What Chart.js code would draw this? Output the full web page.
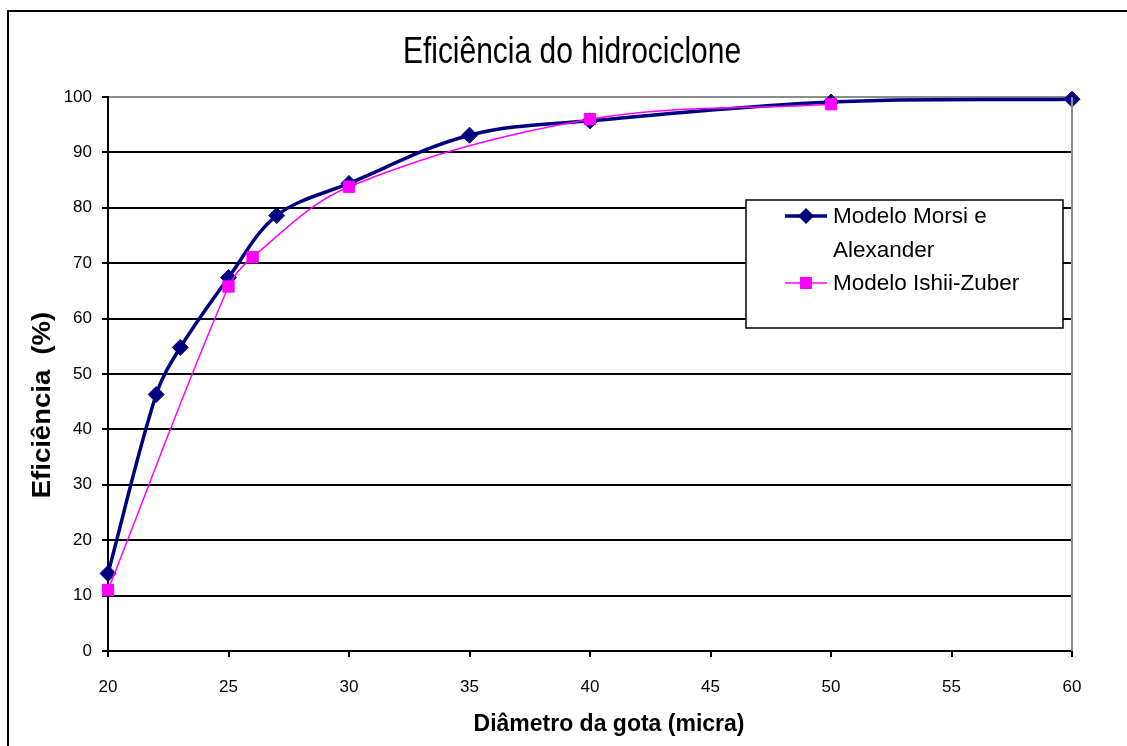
<!doctype html>
<html lang="pt">
  <head>
    <meta charset="utf-8">
    <title>Eficiência do hidrociclone</title>
    <style>
      * { margin: 0; padding: 0; }
      body { background: #fff; }
      .chartBox { width: 1127px; height: 746px; }
    </style>
  </head>
  <body>
    <div class="chartBox">
      <canvas id="myChart" width="1127" height="746"></canvas>
    </div>
    <script src="https://cdn.jsdelivr.net/npm/chart.js/dist/chart.umd.min.js"></script>
    <script>
    // data
    const morsiX = [20, 22, 23, 25, 27, 30, 35, 40, 50, 60];
    const morsiY = [14, 46.3, 54.8, 67.4, 78.6, 84.4, 93.1, 95.7, 99.1, 99.6];
    const ishiiX = [20, 25, 26, 30, 40, 50];
    const ishiiY = [11, 65.8, 71.1, 83.8, 96, 98.7];
    const xTicks = [20, 25, 30, 35, 40, 45, 50, 55, 60];
    const yTicks = [0, 10, 20, 30, 40, 50, 60, 70, 80, 90, 100];

    const navy = '#000080';
    const pink = '#FF00FF';
    const FONT = "'Liberation Sans', Arial, sans-serif";

    const toPoints = (xs, ys) => xs.map((x, i) => ({ x: x, y: ys[i] }));

    // title, axis titles, frame and legend
    const extras = {
      id: 'extras',
      afterDraw(chart) {
        const ctx = chart.ctx;
        const a = chart.chartArea;
        ctx.save();

        // outer frame
        ctx.strokeStyle = '#000';
        ctx.lineWidth = 2;
        ctx.strokeRect(8, 11, 1200, 800);

        // grey plot border on the right
        ctx.strokeStyle = '#8c8c8c';
        ctx.lineWidth = 2;
        ctx.beginPath();
        ctx.moveTo(a.right, a.top);
        ctx.lineTo(a.right, a.bottom);
        ctx.stroke();

        ctx.fillStyle = '#000';
        // chart title (narrow)
        ctx.save();
        ctx.translate(572, 63);
        ctx.scale(0.81, 1);
        ctx.font = '37px ' + FONT;
        ctx.textAlign = 'center';
        ctx.textBaseline = 'alphabetic';
        ctx.fillText('Eficiência do hidrociclone', 0, 0);
        ctx.restore();

        // x title
        ctx.font = 'bold 23px ' + FONT;
        ctx.textAlign = 'center';
        ctx.textBaseline = 'alphabetic';
        ctx.fillText('Diâmetro da gota (micra)', 609, 731);

        // y title
        ctx.save();
        ctx.translate(50, 405);
        ctx.rotate(-Math.PI / 2);
        ctx.scale(1.1, 1);
        ctx.font = 'bold 25px ' + FONT;
        ctx.fillText('Eficiência  (%)', 0, 0);
        ctx.restore();

        // legend box
        ctx.fillStyle = '#fff';
        ctx.fillRect(746, 200, 317, 128);
        ctx.strokeStyle = '#000';
        ctx.lineWidth = 1.5;
        ctx.strokeRect(746, 200, 317, 128);

        // Morsi entry
        ctx.strokeStyle = navy;
        ctx.lineWidth = 3.5;
        ctx.beginPath();
        ctx.moveTo(785, 216);
        ctx.lineTo(827, 216);
        ctx.stroke();
        ctx.fillStyle = navy;
        ctx.beginPath();
        ctx.moveTo(798, 216);
        ctx.lineTo(806, 208);
        ctx.lineTo(814, 216);
        ctx.lineTo(806, 224);
        ctx.closePath();
        ctx.fill();

        // Ishii entry
        ctx.strokeStyle = pink;
        ctx.lineWidth = 1.5;
        ctx.beginPath();
        ctx.moveTo(785, 283);
        ctx.lineTo(827, 283);
        ctx.stroke();
        ctx.fillStyle = pink;
        ctx.fillRect(800, 277, 12, 12);

        ctx.fillStyle = '#000';
        ctx.font = '22.5px ' + FONT;
        ctx.textAlign = 'left';
        ctx.textBaseline = 'middle';
        ctx.fillText('Modelo Morsi e', 833, 217);
        ctx.fillText('Alexander', 833, 251);
        ctx.fillText('Modelo Ishii-Zuber', 833, 284);

        ctx.restore();
      }
    };

    const data = {
      datasets: [{
        label: 'Modelo Ishii-Zuber',
        data: toPoints(ishiiX, ishiiY),
        borderColor: pink,
        backgroundColor: pink,
        borderWidth: 1.5,
        pointStyle: 'rect',
        pointRadius: 8,
        pointBorderWidth: 1,
        tension: 0.35,
        clip: false,
        order: 0
      }, {
        label: 'Modelo Morsi e Alexander',
        data: toPoints(morsiX, morsiY),
        borderColor: navy,
        backgroundColor: navy,
        borderWidth: 3.5,
        pointStyle: 'rectRot',
        pointRadius: 8,
        pointBorderWidth: 1,
        tension: 0.35,
        clip: false,
        order: 1
      }]
    };

    const config = {
      type: 'line',
      data,
      options: {
        responsive: false,
        animation: false,
        layout: { padding: { top: 97, right: 55, left: 0, bottom: 0 } },
        plugins: {
          legend: { display: false },
          tooltip: { enabled: false }
        },
        scales: {
          x: {
            type: 'linear',
            min: 20,
            max: 60,
            afterFit: (s) => { s.height = 95; },
            afterBuildTicks: (s) => { s.ticks = xTicks.map(v => ({ value: v })); },
            ticks: { color: '#000', font: { family: FONT, size: 17 }, padding: 20, maxRotation: 0 },
            grid: { drawOnChartArea: false, drawTicks: true, tickLength: 6, color: '#000', lineWidth: 2 },
            border: { color: '#000', width: 2 }
          },
          y: {
            min: 0,
            max: 100,
            afterFit: (s) => { s.width = 108; },
            afterBuildTicks: (s) => { s.ticks = yTicks.map(v => ({ value: v })); },
            ticks: { color: '#000', font: { family: FONT, size: 17 }, padding: 10 },
            grid: {
              color: (c) => c.tick && c.tick.value === 100 ? '#8c8c8c' : '#000',
              tickColor: '#000',
              lineWidth: 2,
              tickLength: 6
            },
            border: { color: '#000', width: 2 }
          }
        }
      },
      plugins: [extras]
    };

    const myChart = new Chart(document.getElementById('myChart'), config);
    </script>
  </body>
</html>
